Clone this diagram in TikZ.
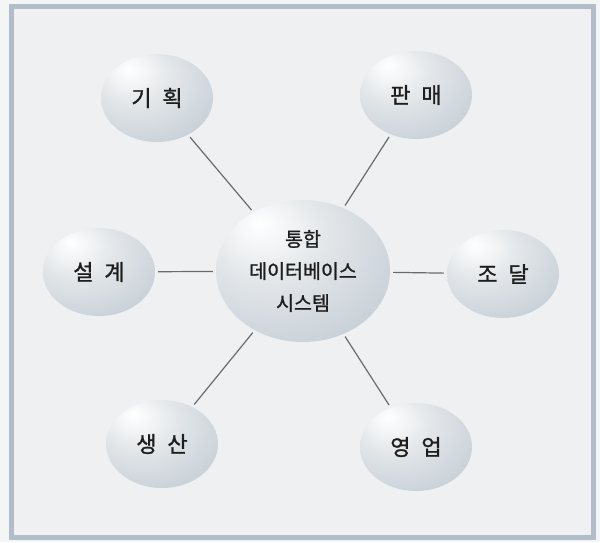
\documentclass[tikz,border=0pt]{standalone}
\usepackage{fontspec}
\newfontfamily\kr{Noto Sans CJK KR}[WordSpace=2.2,FakeBold=1.2]
\usetikzlibrary{shapes.geometric}
\definecolor{pageout}{HTML}{F4F5F5}
\definecolor{bgin}{HTML}{EEF0F1}
\definecolor{bord}{HTML}{B3BDCA}
\definecolor{balH}{HTML}{F7F8F9}
\definecolor{balA}{HTML}{E1E5E8}
\definecolor{balB}{HTML}{CAD2D9}
\definecolor{balC}{HTML}{AFBCC8}
\definecolor{balD}{HTML}{9CADBD}
\definecolor{linec}{HTML}{676C71}
\definecolor{txt}{HTML}{1E1E1E}
\pgfdeclareradialshading{bubble}{\pgfpoint{-13bp}{17bp}}{%
  color(0bp)=(white);color(5bp)=(balH);color(18bp)=(balA);%
  color(36bp)=(balB);color(50bp)=(balC);color(62bp)=(balD);color(80bp)=(balD)}
\tikzset{
  bub/.style={ellipse, shading=bubble, inner sep=0pt, text=txt},
  sat/.style={bub, minimum width=112pt, minimum height=88pt,
    font=\kr\fontsize{22}{24}\selectfont},
  hub/.style={bub, minimum width=174pt, minimum height=142pt,
    align=center, font=\kr\fontsize{19.5}{32}\selectfont},
  conn/.style={draw=linec, line width=1.2pt, shorten <=3pt, shorten >=3pt}
}
\begin{document}
\begin{tikzpicture}[x=1pt,y=-1pt]
\useasboundingbox (0,0) rectangle (600,542);
\fill[pageout] (0,0) rectangle (600,542);
\draw[line width=5pt, draw=bord, fill=bgin] (11.5,6.5) rectangle (593,537.5);
\node[hub] (c) at (303,271) {통합\\데이터베이스\\시스템};
\node[sat] (k) at (157,98) {기 획};
\node[sat] (p) at (416,95) {판 매};
\node[sat] (s) at (99,272) {설 계};
\node[sat] (j) at (503,274) {조 달};
\node[sat] (g) at (162,444) {생 산};
\node[sat] (y) at (416,447) {영 업};
\draw[conn] (k) -- (c);
\draw[conn] (p) -- (c);
\draw[conn] (s) -- (c);
\draw[conn] (j) -- (c);
\draw[conn] (g) -- (c);
\draw[conn] (y) -- (c);
\end{tikzpicture}
\end{document}
